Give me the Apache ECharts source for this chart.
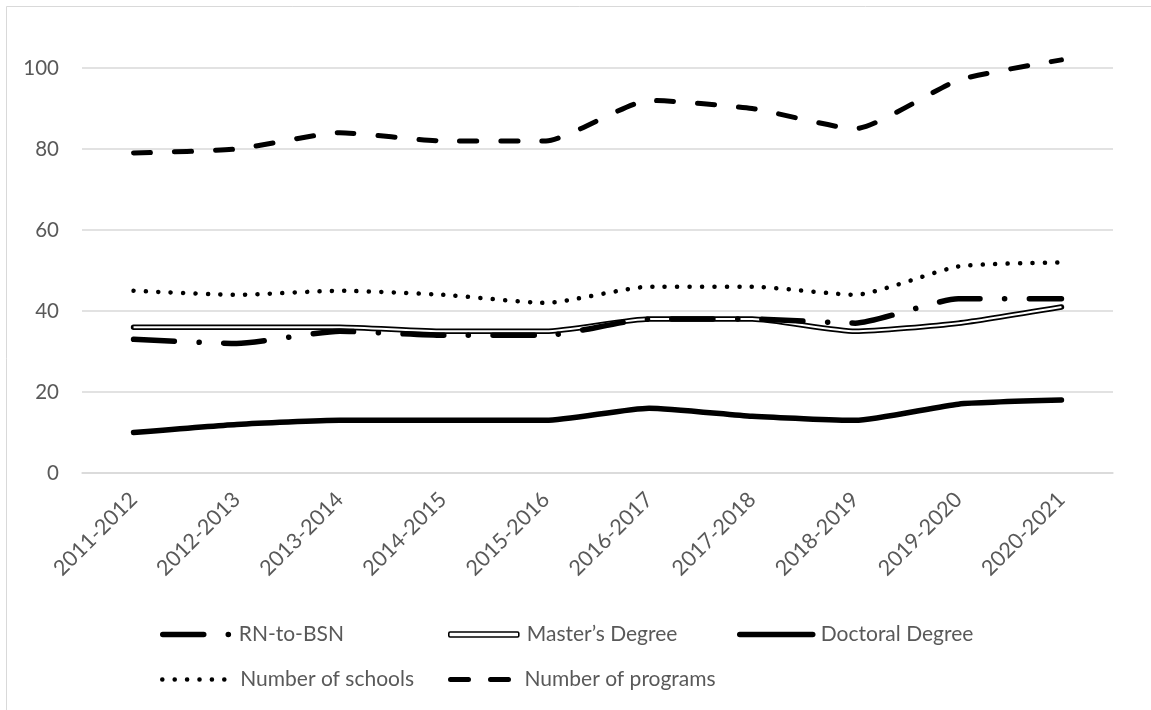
<!DOCTYPE html>
<html>
<head>
<meta charset="utf-8">
<style>
  html, body { margin: 0; padding: 0; background: #fff; }
  #chart { width: 1151px; height: 710px; }
</style>
<script src="https://cdn.jsdelivr.net/npm/echarts@6/dist/echarts.min.js"></script>
</head>
<body>
<div id="chart"></div>
<script>
// Academic years on the category axis
const years = ['2011-2012', '2012-2013', '2013-2014', '2014-2015', '2015-2016',
               '2016-2017', '2017-2018', '2018-2019', '2019-2020', '2020-2021'];

// Counts per year
const rnToBsn   = [33, 32, 35, 34, 34, 38, 38, 37, 43, 43];
const masters   = [36, 36, 36, 35, 35, 38, 38, 35, 37, 41];
const doctoral  = [10, 12, 13, 13, 13, 16, 14, 13, 17, 18];
const schools   = [45, 44, 45, 44, 42, 46, 46, 44, 51, 52];
const programs  = [79, 80, 84, 82, 82, 92, 90, 85, 97, 102];

// Value axis ticks
const yTicks = [0, 20, 40, 60, 80, 100];

const FONT = 'Lato, "Open Sans", sans-serif';
const TXT = '#595959';
const GRID = '#d9d9d9';
const SMOOTH = 0.18;

// Stroke patterns shared by the plotted lines and their legend keys
const STYLE_PROGRAMS = { width: 5, type: [17, 24] };
const STYLE_SCHOOLS  = { width: 4.5, type: [0.1, 12.3] };
const STYLE_RN       = { width: 5.5, type: [41, 24.5, 0.1, 24.5] };
const STYLE_SOLID    = { width: 5.5, type: 'solid' };

function lineSeries(name, data, lineStyle, z) {
  return {
    name, type: 'line', data, smooth: SMOOTH, symbol: 'none', clip: false,
    z: z || 2,
    itemStyle: { color: '#000' },
    lineStyle: Object.assign({ color: '#000', cap: 'round', join: 'round' }, lineStyle),
    emphasis: { disabled: true }
  };
}

function legendAt(name, left, top, width, lineStyle, extra) {
  return Object.assign({
    data: [name], left, top, padding: 0,
    itemWidth: width, itemHeight: 10, itemGap: 0,
    selectedMode: false,
    itemStyle: { opacity: 0 },
    lineStyle: Object.assign({ color: '#000', cap: 'round', join: 'round' }, lineStyle || {}),
    textStyle: { fontFamily: FONT, fontSize: 21, color: TXT, padding: [0, 0, 0, 3] }
  }, extra || {});
}

const chart = echarts.init(document.getElementById('chart'), null, { renderer: 'canvas' });

chart.setOption({
  animation: false,
  backgroundColor: '#fff',
  graphic: [{
    type: 'rect', silent: true, z: -10,
    shape: { x: 6.5, y: 6.5, width: 1160, height: 720 },
    style: { fill: 'none', stroke: GRID, lineWidth: 1 }
  }],
  grid: { left: 82, right: 38, top: 68, bottom: 237, containLabel: false },
  xAxis: {
    type: 'category', data: years, boundaryGap: true,
    axisLine: { show: true, lineStyle: { color: GRID, width: 1.5 } },
    axisTick: { show: false },
    axisLabel: { rotate: 45, margin: 23, fontFamily: FONT, fontSize: 21.5, color: TXT, interval: 0 },
    splitLine: { show: false }
  },
  yAxis: {
    type: 'value', min: yTicks[0], max: yTicks[yTicks.length - 1], interval: yTicks[1] - yTicks[0],
    axisLine: { show: false }, axisTick: { show: false },
    axisLabel: { margin: 23, fontFamily: FONT, fontSize: 20.5, color: TXT },
    splitLine: { show: true, lineStyle: { color: GRID, width: 1.5 } }
  },
  legend: [
    legendAt('RN-to-BSN', 160, 624, 68, STYLE_RN),
    legendAt('Master’s Degree', 448, 624, 70, null, {
      data: [{ name: 'Master’s Degree', icon: 'roundRect',
               itemStyle: { color: '#fff', borderColor: '#000', borderWidth: 1.6, opacity: 1 } }],
      itemStyle: { opacity: 1 },
      itemHeight: 5
    }),
    legendAt('Doctoral Degree', 737, 624, 73, STYLE_SOLID),
    legendAt('Number of schools', 160, 669, 70, STYLE_SCHOOLS),
    legendAt('Number of programs', 448, 669, 66, { width: 5, type: [18, 22] })
  ],
  series: [
    lineSeries('Number of programs', programs, STYLE_PROGRAMS, 3),
    lineSeries('Number of schools', schools, STYLE_SCHOOLS, 3),
    lineSeries('Master’s Degree', masters, { width: 5.5 }, 2),
    lineSeries('Master’s Degree inner stroke', masters, { width: 2, color: '#fff', cap: 'butt' }, 2),
    lineSeries('RN-to-BSN', rnToBsn, STYLE_RN, 4),
    lineSeries('Doctoral Degree', doctoral, STYLE_SOLID, 3)
  ]
});
</script>
</body>
</html>
